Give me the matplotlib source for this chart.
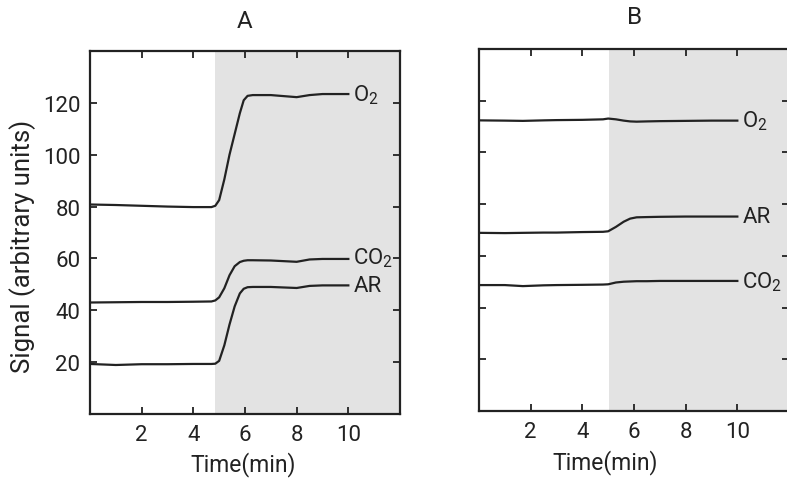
import matplotlib
matplotlib.use("Agg")
import matplotlib.pyplot as plt

# Panel A readings (time in min, signal in arbitrary units)
tA = [0, 1, 2, 3, 4, 4.7, 4.85, 5.0, 5.2, 5.4, 5.6, 5.8, 5.95, 6.1, 6.3, 7, 8, 8.5, 9, 10]
o2A = [80.8, 80.6, 80.3, 80.0, 79.8, 79.8, 80.3, 82.5, 90.5, 100, 108, 116, 121.0, 122.7,
       123, 123, 122.2, 123, 123.4, 123.4]
co2A = [43.0, 43.1, 43.2, 43.2, 43.3, 43.4, 43.8, 45, 48.5, 53.5, 57.0, 58.6, 59.1, 59.3,
        59.3, 59.2, 58.7, 59.6, 59.8, 59.8]
arA = [19.3, 18.9, 19.2, 19.2, 19.3, 19.3, 19.4, 20.5, 26.5, 34.5, 41.5, 46.5, 48.3, 48.9,
       49, 49, 48.6, 49.4, 49.6, 49.6]

# Panel B readings
tB = [0, 1, 1.7, 2.5, 3, 4, 4.8, 5.0, 5.3, 5.6, 5.85, 6.1, 6.5, 7, 8, 9, 10]
o2B = [112.4, 112.3, 112.2, 112.4, 112.5, 112.6, 112.8, 113.1, 112.8, 112.3, 112.0, 111.9,
       112.0, 112.1, 112.2, 112.3, 112.3]
arB = [68.9, 68.8, 68.9, 69.0, 69.0, 69.2, 69.3, 69.5, 71.2, 73.2, 74.4, 74.9, 75.0, 75.1,
       75.2, 75.2, 75.2]
co2B = [48.7, 48.7, 48.3, 48.6, 48.7, 48.8, 48.9, 49.0, 49.7, 50.0, 50.1, 50.2, 50.2, 50.3,
        50.3, 50.3, 50.3]

shadeA = 4.85
shadeB = 5.05
xticks = [2, 4, 6, 8, 10]
yticks = [20, 40, 60, 80, 100, 120]

plt.rcParams['font.family'] = ['Roboto', 'DejaVu Sans']
plt.rcParams['mathtext.fontset'] = 'custom'
plt.rcParams['mathtext.rm'] = 'Roboto'

ink = '#222222'
fs = 16

fig = plt.figure(figsize=(7.87, 4.85), dpi=100)
axA = fig.add_axes([90 / 787, 1 - 415 / 485, 310 / 787, 363 / 485])
axB = fig.add_axes([479 / 787, 1 - 412 / 485, 310 / 787, 362 / 485])


def style(ax, shade):
    ax.set_xlim(0, 12)
    ax.set_ylim(0, 140)
    ax.axvspan(shade, 12, color='#e3e3e3', lw=0, zorder=0)
    ax.set_xticks(xticks)
    ax.set_yticks(yticks)
    ax.tick_params(direction='in', top=True, right=True, length=5, width=1.3,
                   color=ink, labelsize=fs, labelcolor=ink, pad=7)
    for s in ax.spines.values():
        s.set_linewidth(1.6)
        s.set_color(ink)


style(axA, shadeA)
style(axB, shadeB)
axB.set_yticklabels([])

lw = 1.6
axA.plot(tA, o2A, color=ink, lw=lw)
axA.plot(tA, co2A, color=ink, lw=lw)
axA.plot(tA, arA, color=ink, lw=lw)
axA.text(10.2, o2A[-1], r'O$_2$', fontsize=fs, color=ink, va='center')
axA.text(10.2, co2A[-1] + 0.5, r'CO$_2$', fontsize=fs, color=ink, va='center')
axA.text(10.2, arA[-1], 'AR', fontsize=fs, color=ink, va='center')

axB.plot(tB, o2B, color=ink, lw=lw)
axB.plot(tB, arB, color=ink, lw=lw)
axB.plot(tB, co2B, color=ink, lw=lw)
axB.text(10.2, o2B[-1], r'O$_2$', fontsize=fs, color=ink, va='center')
axB.text(10.2, arB[-1], 'AR', fontsize=fs, color=ink, va='center')
axB.text(10.2, co2B[-1], r'CO$_2$', fontsize=fs, color=ink, va='center')

fig.text(23 / 787, 1 - 246 / 485, 'Signal (arbitrary units)', fontsize=18.5, color=ink,
         rotation=90, ha='center', va='center')

fig.text(245 / 787, 1 - 22 / 485, 'A', fontsize=17.5, color=ink, ha='center', va='center')
fig.text(635 / 787, 1 - 18 / 485, 'B', fontsize=17.5, color=ink, ha='center', va='center')
fig.text(243 / 787, 1 - 465 / 485, 'Time(min)', fontsize=fs + 0.5, color=ink, ha='center', va='center')
fig.text(605 / 787, 1 - 463 / 485, 'Time(min)', fontsize=fs + 0.5, color=ink, ha='center', va='center')

fig.savefig('out.png', dpi=100)
